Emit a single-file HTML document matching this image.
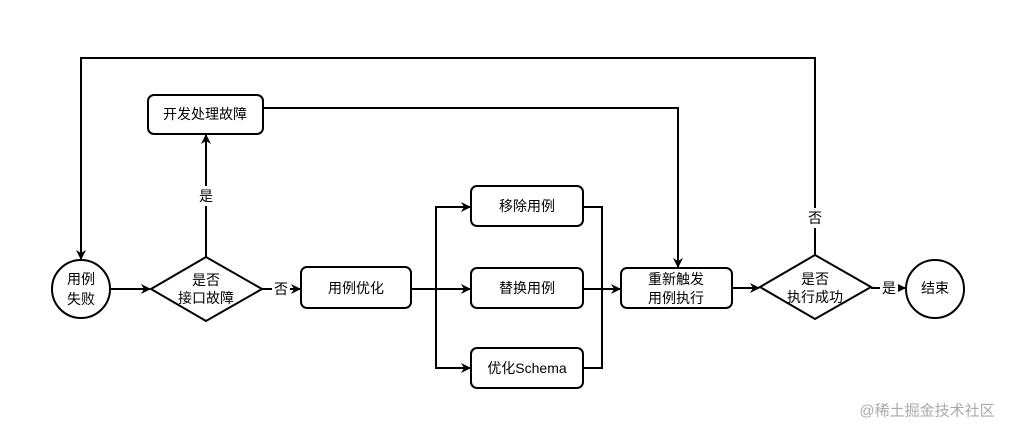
<!DOCTYPE html>
<html><head><meta charset="utf-8"><style>
body{margin:0;background:#fff;}
svg text{font-family:"Liberation Sans","Noto Sans CJK SC",sans-serif;font-size:14px;fill:#000;text-anchor:middle;dominant-baseline:central;}
</style></head><body>
<svg width="1022" height="439" viewBox="0 0 1022 439" xmlns="http://www.w3.org/2000/svg">
<defs><marker id="a" markerWidth="10" markerHeight="10" refX="9" refY="5" orient="auto" markerUnits="userSpaceOnUse"><path d="M0,0 L10,5 L0,10 L3,5 Z" fill="#000"/></marker></defs>
<g fill="none" stroke="#000" stroke-width="2">
<circle cx="81" cy="289" r="29"/>
<polygon points="151,289 206,257 262,289 206,321"/>
<rect x="301" y="267" width="110" height="41" rx="6"/>
<rect x="471" y="186" width="112" height="40" rx="6"/>
<rect x="471" y="268" width="112" height="40" rx="6"/>
<rect x="471" y="348" width="112" height="40" rx="6"/>
<rect x="621" y="268" width="111" height="40" rx="6"/>
<polygon points="760,287 815,255 871,287 815,319"/>
<circle cx="935" cy="289" r="29"/>
<rect x="148" y="95" width="115" height="39" rx="6"/>
</g>
<g fill="none" stroke="#000" stroke-width="2">
<line x1="110" y1="289" x2="150" y2="289" marker-end="url(#a)"/>
<line x1="262" y1="289" x2="300" y2="289" marker-end="url(#a)"/>
<line x1="411" y1="289" x2="470" y2="289" marker-end="url(#a)"/>
<polyline points="436,289 436,207 470,207" marker-end="url(#a)"/>
<polyline points="436,289 436,368 470,368" marker-end="url(#a)"/>
<polyline points="583,207 602,207 602,368 583,368"/>
<line x1="583" y1="289" x2="620" y2="289" marker-end="url(#a)"/>
<line x1="732" y1="288" x2="759" y2="288" marker-end="url(#a)"/>
<line x1="871" y1="288" x2="905" y2="288" marker-end="url(#a)"/>
<line x1="206" y1="257" x2="206" y2="135" marker-end="url(#a)"/>
<polyline points="263,108 678,108 678,267" marker-end="url(#a)"/>
<polyline points="815,255 815,58 81,58 81,259" marker-end="url(#a)"/>
</g>
<rect x="198" y="186" width="18" height="20" fill="#fff"/>
<text x="206" y="196">是</text>
<rect x="806" y="208" width="18" height="20" fill="#fff"/>
<text x="815" y="218">否</text>
<rect x="272" y="280" width="18" height="18" fill="#fff"/>
<text x="281" y="289">否</text>
<rect x="880" y="279" width="18" height="18" fill="#fff"/>
<text x="889" y="288">是</text>
<text x="81" y="279">用例</text><text x="81" y="299">失败</text>
<text x="206" y="280">是否</text><text x="206" y="298">接口故障</text>
<text x="356" y="288">用例优化</text>
<text x="527" y="206">移除用例</text>
<text x="527" y="288">替换用例</text>
<text x="527" y="368">优化Schema</text>
<text x="676" y="279">重新触发</text><text x="676" y="298">用例执行</text>
<text x="815" y="279">是否</text><text x="815" y="297">执行成功</text>
<text x="935" y="288">结束</text>
<text x="205" y="114">开发处理故障</text>
<text x="927" y="411" style="fill:#aaa;font-size:15px">@稀土掘金技术社区</text>
</svg>
</body></html>
